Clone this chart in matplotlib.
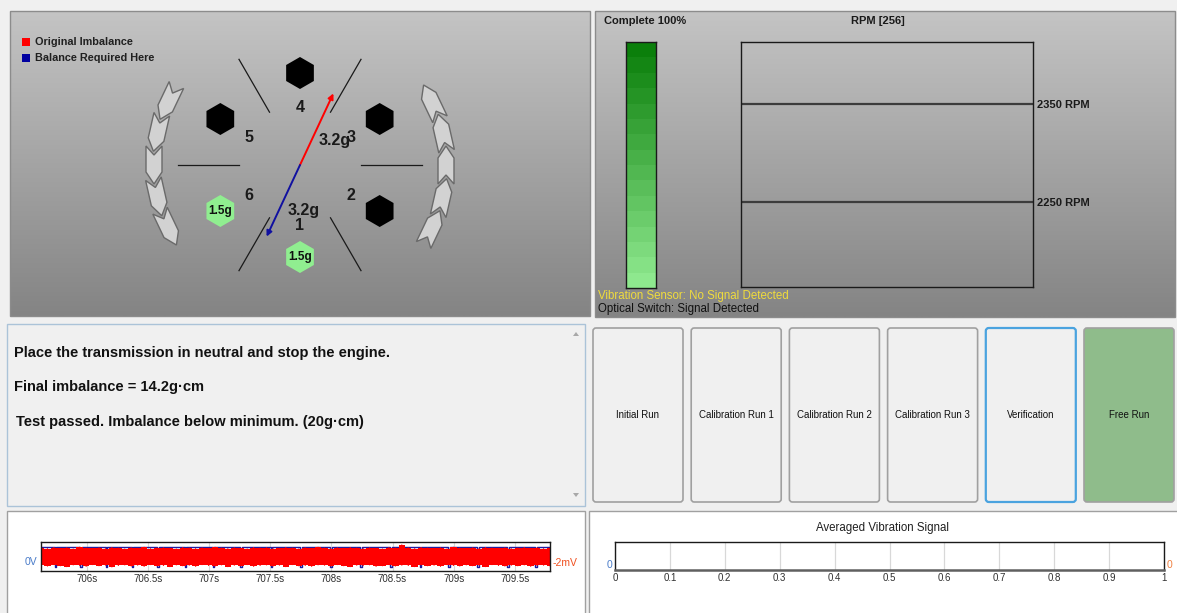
import numpy as np
import matplotlib
matplotlib.use("Agg")
import matplotlib.pyplot as plt
from matplotlib.patches import Rectangle, FancyBboxPatch, RegularPolygon, Polygon
from matplotlib.colors import LinearSegmentedColormap

plt.rcParams['font.family'] = ['Liberation Sans', 'DejaVu Sans']

W, H = 1177, 613

# ---------------- data ----------------
legend_labels = ["Original Imbalance", "Balance Required Here"]
legend_colors = ["#ff0000", "#0000a0"]

hole_numbers = [1, 2, 3, 4, 5, 6]
hole_angles = [270, 330, 30, 90, 150, 210]          # degrees, counter-clockwise from 3 o'clock
hole_weights = [1.5, 0, 0, 0, 0, 1.5]               # grams fitted (0 = none)

imbalance_angle = 65
imbalance_mass = 3.2
balance_angle = 245
balance_mass = 3.2

progress_pct = 100
rpm_title = "RPM [256]"
rpm_limits = [2350, 2250]
rpm_range = [2163, 2413]

status_lines = ["Vibration Sensor: No Signal Detected", "Optical Switch: Signal Detected"]
messages = ["Place the transmission in neutral and stop the engine.",
            "Final imbalance = 14.2g\u00b7cm",
            "Test passed. Imbalance below minimum. (20g\u00b7cm)"]
buttons = ["Initial Run", "Calibration Run 1", "Calibration Run 2",
           "Calibration Run 3", "Verification", "Free Run"]

signal_ticks = [706, 706.5, 707, 707.5, 708, 708.5, 709, 709.5]
signal_xlim = [705.627, 709.787]
pulse_times = [705.747, 705.953, 706.162, 706.375, 706.583, 706.808, 707.035, 707.260,
               707.512, 707.751, 707.996, 708.241, 708.487, 708.730, 708.960, 709.197,
               709.442, 709.671]
red_high = [0.79, 0.77, 0.81, 0.78, 0.80, 0.76, 0.82, 0.79, 0.78, 0.80, 0.77, 0.81, 0.79, 0.76,
            0.80, 0.78, 0.82, 0.77, 0.79, 0.80, 0.78, 0.76, 0.81, 0.79, 0.77, 0.80, 0.78, 0.82,
            0.79, 0.77, 0.80, 0.78, 0.76, 0.81, 0.79, 0.80, 0.77, 0.78, 0.81, 0.79, 0.76, 0.80,
            0.78, 0.82, 0.79, 0.77, 0.80, 0.78, 0.81, 0.79, 0.77, 0.80, 0.78, 0.76, 0.81, 0.79,
            0.90, 0.80, 0.77, 0.81, 0.79, 0.78, 0.80, 0.76, 0.82, 0.79, 0.78, 0.80, 0.77, 0.81,
            0.79, 0.78, 0.80, 0.77, 0.79, 0.81, 0.78, 0.80, 0.77, 0.79]
red_low = [0.20, 0.17, 0.22, 0.18, 0.15, 0.21, 0.19, 0.16, 0.22, 0.18, 0.20, 0.14, 0.19, 0.21,
           0.17, 0.20, 0.16, 0.22, 0.18, 0.19, 0.15, 0.21, 0.18, 0.20, 0.16, 0.22, 0.19, 0.17,
           0.21, 0.15, 0.20, 0.18, 0.22, 0.16, 0.19, 0.21, 0.17, 0.20, 0.15, 0.22, 0.18, 0.19,
           0.16, 0.21, 0.20, 0.17, 0.22, 0.18, 0.15, 0.20, 0.19, 0.21, 0.16, 0.18, 0.22, 0.17,
           0.20, 0.19, 0.15, 0.21, 0.18, 0.20, 0.16, 0.22, 0.19, 0.17, 0.21, 0.18, 0.20, 0.15,
           0.22, 0.19, 0.17, 0.20, 0.18, 0.21, 0.16, 0.19, 0.20, 0.18]
signal_left_label = "0V"
signal_right_label = "-2mV"

avg_title = "Averaged Vibration Signal"
avg_ticks = [0, 0.1, 0.2, 0.3, 0.4, 0.5, 0.6, 0.7, 0.8, 0.9, 1]
avg_tick_labels = ["0", "0.1", "0.2", "0.3", "0.4", "0.5", "0.6", "0.7", "0.8", "0.9", "1"]

# ---------------- figure ----------------
fig = plt.figure(figsize=(W / 100, H / 100), dpi=100)
fig.patch.set_facecolor("#f0f0f0")
bg = fig.add_axes([0, 0, 1, 1])
bg.axis("off")


def fax(x0, y0, x1, y1):
    return fig.add_axes([x0 / W, 1 - y1 / H, (x1 - x0) / W, (y1 - y0) / H])


panel_cmap = LinearSegmentedColormap.from_list("pg", ["#c4c4c4", "#848484"])
grad = np.linspace(0, 1, 256).reshape(-1, 1)
for (x0, y0, x1, y1) in [(10, 11, 590, 316), (595, 11, 1175, 317)]:
    bg.imshow(grad, cmap=panel_cmap, extent=(x0, x1, y1, y0), aspect="auto",
              origin="upper", zorder=0, interpolation="bilinear")
    bg.add_patch(Rectangle((x0, y0), x1 - x0, y1 - y0, fill=False, ec="#8c8c8c", lw=1, zorder=1))

# legend
for i, (lab, col) in enumerate(zip(legend_labels, legend_colors)):
    y = 42 + i * 16
    bg.add_patch(Rectangle((22, y - 4), 8, 8, fc=col, ec="none", zorder=3))
    bg.text(35, y, lab, fontsize=7.8, fontweight="bold", color="#202020",
            va="center", ha="left", zorder=3)

# balancing diagram
cx, cy = 300, 165


def pt(a, r):
    return cx + r * np.cos(np.radians(a)), cy - r * np.sin(np.radians(a))


for a in range(0, 360, 60):
    p0, p1 = pt(a, 61), pt(a, 122)
    bg.plot([p0[0], p1[0]], [p0[1], p1[1]], color="#1a1a1a", lw=0.9, zorder=2)

for n, a, w in zip(hole_numbers, hole_angles, hole_weights):
    x, y = pt(a, 92)
    bg.add_patch(RegularPolygon((x, y), 6, radius=16, orientation=0,
                                fc="#90ee90" if w else "black", ec="none", zorder=3))
    if w:
        bg.text(x, y, f"{w}g", fontsize=8.5, fontweight="bold", color="#101010",
                ha="center", va="center", zorder=4)
    lx, ly = pt(a, 59)
    bg.text(lx, ly + 1.5, str(n), fontsize=11.5, fontweight="bold", color="#1a1a1a",
            ha="center", va="center", zorder=4)

for ang, col, mass, lpos in [(imbalance_angle, "#ff0000", imbalance_mass, (335, 141)),
                             (balance_angle, "#1010a0", balance_mass, (304, 210))]:
    tip = pt(ang, 79)
    bg.annotate("", xy=tip, xytext=(cx, cy),
                arrowprops=dict(arrowstyle="-|>", color=col, lw=1.4, mutation_scale=8,
                                shrinkA=0, shrinkB=0), zorder=5)
    bg.text(lpos[0], lpos[1], f"{mass}g", fontsize=11.5, fontweight="bold", color="#1a1a1a",
            ha="center", va="center", zorder=6)

# rotation chevrons (nested, pointing counter-clockwise)
L, Wc, hd, nd = 38, 16, 12, 9
chev_local = np.array([(L / 2, 0), (L / 2 - hd, Wc / 2), (-L / 2, Wc / 2), (-L / 2 + nd, 0),
                       (-L / 2, -Wc / 2), (L / 2 - hd, -Wc / 2)])
for a in [154.5, 167.25, 180, 192.75, 205.5, -25.5, -12.75, 0, 12.75, 25.5]:
    c = np.array(pt(a, 146))
    r = np.radians(a)
    u = np.array([-np.sin(r), -np.cos(r)])     # CCW tangent (screen coords)
    v = np.array([u[1], -u[0]])
    pts = [c + px * u + py * v for px, py in chev_local]
    bg.add_patch(Polygon(pts, closed=True, fc="#d2d2d2", ec="#6a6a6a", lw=1, zorder=3))

# top-right panel texts
bg.text(604, 21, f"Complete {progress_pct}%", fontsize=8, fontweight="bold",
        color="#1a1a1a", va="center", ha="left")
bg.text(878, 21, rpm_title, fontsize=8, fontweight="bold", color="#1a1a1a",
        va="center", ha="center")
bg.text(598, 296, status_lines[0], fontsize=8.3, color="#f0dc3c", va="center", ha="left")
bg.text(598, 309, status_lines[1], fontsize=8.3, color="#101010", va="center", ha="left")

# progress bar
pax = fax(626, 42, 656, 288)
pcmap = LinearSegmentedColormap.from_list("gr", ["#8ee88e", "#0b7f0b"])
nb = 16
for i in range(nb):
    pax.bar(0.5, progress_pct / nb, bottom=i * progress_pct / nb, width=1,
            color=pcmap(i / (nb - 1)), lw=0)
pax.set_xlim(0, 1)
pax.set_ylim(0, 100)
pax.set_xticks([])
pax.set_yticks([])
pax.patch.set_alpha(0)
for s in pax.spines.values():
    s.set_color("#1a1a1a")
    s.set_linewidth(1)

# RPM chart
rax = fax(741, 42, 1033, 287)
rax.patch.set_alpha(0)
rax.set_ylim(*rpm_range)
rax.set_xlim(0, 1)
for v in rpm_limits:
    rax.axhline(v, color="#3c3c3c", lw=1.6)
rax.set_xticks([])
rax.yaxis.tick_right()
rax.set_yticks(rpm_limits)
rax.set_yticklabels([f"{v} RPM" for v in rpm_limits], fontsize=8, fontweight="bold",
                    color="#1a1a1a")
rax.tick_params(axis="y", length=0, pad=3)
for s in rax.spines.values():
    s.set_color("#1a1a1a")
    s.set_linewidth(1)

# message box
bg.add_patch(Rectangle((7, 324), 578, 182, fc="#f0f0f0", ec="#abc3d8", lw=1, zorder=1))
for msg, y, x in zip(messages, [353, 387, 422], [14, 14, 16]):
    bg.text(x, y, msg, fontsize=10.5, fontweight="bold", color="#111111",
            va="center", ha="left", zorder=2)
bg.add_patch(Polygon([(573, 336), (579, 336), (576, 332)], fc="#a8a8a8", ec="none", zorder=2))
bg.add_patch(Polygon([(573, 493), (579, 493), (576, 497)], fc="#a8a8a8", ec="none", zorder=2))

# buttons
for i, lab in enumerate(buttons):
    x0 = 593 + i * 98.2
    fc = "#8fbc8b" if lab == "Free Run" else "#f0f0f0"
    ec = "#4aa3df" if lab == "Verification" else "#a0a0a0"
    lw = 1.6 if lab == "Verification" else 1.2
    bg.add_patch(FancyBboxPatch((x0, 328), 90, 174, boxstyle="round,pad=0,rounding_size=3",
                                fc=fc, ec=ec, lw=lw, zorder=2))
    bg.text(x0 + 45, 415, lab, fontsize=7, color="#111111", ha="center", va="center", zorder=3)

# bottom panels
bg.add_patch(Rectangle((7, 511), 578, 104, fc="white", ec="#a0a0a0", lw=1, zorder=1))
bg.add_patch(Rectangle((589, 511), 590, 104, fc="white", ec="#a0a0a0", lw=1, zorder=1))

# signal chart
sax = fax(41, 542, 550, 571)
sax.set_xlim(*signal_xlim)
sax.set_ylim(0, 1)
for t in signal_ticks:
    sax.axvline(t, color="#d8d8d8", lw=0.8, zorder=0)
hi, lo, d = 0.84, 0.13, 0.006
bx, by = [signal_xlim[0]], [hi]
for p in pulse_times:
    bx += [p - d, p - d, p + d, p + d]
    by += [hi, lo, lo, hi]
bx.append(signal_xlim[1])
by.append(hi)
sax.plot(bx, by, color="#1c1ca0", lw=1, zorder=1)
ts = np.linspace(signal_xlim[0], signal_xlim[1], len(red_high))
sax.fill_between(ts, red_low, red_high, step="mid", color="#ff0000", lw=0, zorder=2)
zz_t = np.repeat(ts, 2)
zz_v = np.ravel(np.column_stack([red_high, red_low]))
sax.plot(zz_t, zz_v, color="#ff0000", lw=0.8, zorder=2)
sax.set_xticks(signal_ticks)
sax.set_xticklabels([f"{t:g}s" for t in signal_ticks], fontsize=7, color="#303030")
sax.set_yticks([])
sax.tick_params(axis="x", length=0, pad=2)
for s in sax.spines.values():
    s.set_color("#1a1a1a")
    s.set_linewidth(1)
bg.text(37, 562, signal_left_label, fontsize=7.5, color="#4a7cc9", ha="right", va="center")
bg.text(553, 563, signal_right_label, fontsize=7.5, color="#f05020", ha="left", va="center")

# averaged chart
aax = fax(615, 542, 1164, 570)
aax.set_xlim(0, 1)
aax.set_ylim(0, 1)
for t in avg_ticks:
    aax.axvline(t, color="#d8d8d8", lw=0.9, zorder=0)
aax.set_xticks(avg_ticks)
aax.set_xticklabels(avg_tick_labels, fontsize=7, color="#303030")
aax.set_yticks([])
aax.tick_params(axis="x", length=0, pad=2)
for s in aax.spines.values():
    s.set_color("#1a1a1a")
    s.set_linewidth(1)
aax.spines["bottom"].set_color("#606060")
aax.spines["bottom"].set_linewidth(1.8)
bg.text(883, 528, avg_title, fontsize=8.3, color="#202020", ha="center", va="center")
bg.text(612, 565, "0", fontsize=7.5, color="#4a7cc9", ha="right", va="center")
bg.text(1167, 565, "0", fontsize=7.5, color="#f08040", ha="left", va="center")

bg.set_xlim(0, W)
bg.set_ylim(H, 0)
fig.savefig("out.png", dpi=100, facecolor=fig.get_facecolor())
